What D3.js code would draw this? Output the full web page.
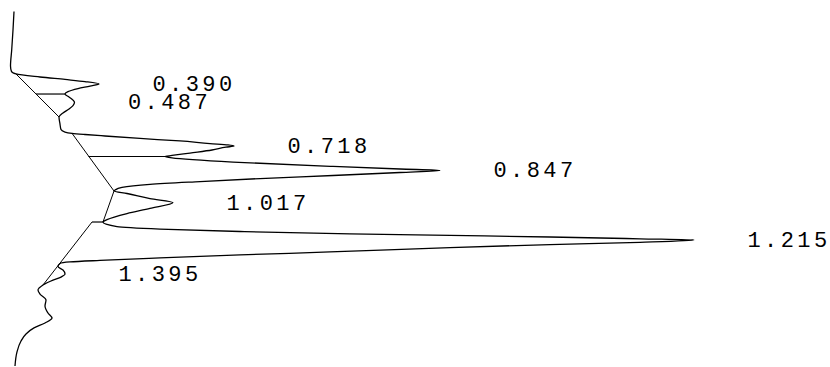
<!DOCTYPE html>
<html>
<head>
<meta charset="utf-8">
<script src="https://cdn.jsdelivr.net/npm/d3@7"></script>
<style>
  html, body { margin: 0; padding: 0; background: #fff; }
  svg { display: block; }
</style>
</head>
<body>
<svg id="chart" width="830" height="367"></svg>
<script>
// Retention time (min) of each trace sample
const traceTime = [
  0.007, 0.104, 0.210, 0.295, 0.324, 0.337,
  0.353, 0.366, 0.377, 0.390, 0.401, 0.414, 0.430, 0.443,
  0.459, 0.475, 0.487, 0.504, 0.522, 0.543, 0.5645, 0.602, 0.631, 0.644, 0.6507,
  0.657, 0.665, 0.678, 0.691, 0.705, 0.712, 0.718, 0.724, 0.739, 0.755, 0.768, 0.7734,
  0.781, 0.803, 0.826, 0.8395, 0.847, 0.858, 0.874, 0.890, 0.906, 0.921, 0.937, 0.951, 0.9559,
  0.969, 0.996, 1.017, 1.048, 1.075, 1.107, 1.1198,
  1.144, 1.157, 1.170, 1.183, 1.191, 1.199, 1.2086, 1.215, 1.227, 1.239, 1.255, 1.278, 1.294, 1.310, 1.323, 1.331, 1.339,
  1.355, 1.374, 1.395, 1.411, 1.427, 1.4529,
  1.479, 1.501, 1.532, 1.564, 1.601, 1.628, 1.654, 1.680, 1.712, 1.749, 1.807, 1.881
];
// Detector signal (mV) of each trace sample
const traceSignal = [
  4, 3, 1.7, 0.5, 1.5, 6,
  30, 55, 75, 89, 80, 68, 58, 55,
  59, 63, 64.5, 63, 59, 53, 49, 50, 51, 55, 62,
  75, 95, 130, 170, 200, 218, 224, 216, 202, 180, 162, 155,
  162, 223, 323, 390, 430, 390, 323, 250, 190, 140, 112, 105, 104,
  117, 140, 163, 140, 117, 97, 93,
  107, 150, 230, 340, 440, 540, 630, 684, 630, 540, 440, 320, 230, 150, 90, 60, 50,
  48, 53, 55, 51, 43, 33,
  28, 30, 36, 35, 38, 42, 35, 24, 16, 11, 7, 5
];
// Integration baselines [t1, s1, t2, s2]
const baselines = [
  [0.337, 6, 0.5645, 49],
  [0.6507, 62, 0.9559, 104],
  [0.9559, 104, 1.1198, 93],
  [1.1198, 82, 1.4529, 33]
];
// Drop lines [t, baseline signal, trace signal]
const dropLines = [
  [0.443, 26, 55],
  [0.7734, 78.5, 155],
  [1.1198, 82, 93]
];
// Labelled peaks
const peakTimes   = [0.390, 0.487, 0.718, 0.847, 1.017, 1.215, 1.395];
const peakHeights = [89, 64.5, 224, 430, 163, 684, 55];
const peakLabels  = ["0.390", "0.487", "0.718", "0.847", "1.017", "1.215", "1.395"];

const svg = d3.select("#chart");
const x = d3.scaleLinear().domain([0, 820]).range([10, 830]);
const y = d3.scaleLinear().domain([0, 1.9]).range([10.25, 10.25 + 1.9 * 189.1]);

const trace = traceTime.map((t, i) => ({ t, s: traceSignal[i] }));

svg.append("path")
  .datum(trace)
  .attr("fill", "none")
  .attr("stroke", "#000")
  .attr("stroke-width", 1.3)
  .attr("stroke-linejoin", "round")
  .attr("d", d3.line().x(d => x(d.s)).y(d => y(d.t)).curve(d3.curveMonotoneY));

svg.append("g").selectAll("line")
  .data(baselines)
  .join("line")
  .attr("x1", d => x(d[1])).attr("y1", d => y(d[0]))
  .attr("x2", d => x(d[3])).attr("y2", d => y(d[2]))
  .attr("stroke", "#000").attr("stroke-width", 1);

svg.append("g").selectAll("line")
  .data(dropLines)
  .join("line")
  .attr("x1", d => x(d[1])).attr("y1", d => y(d[0]))
  .attr("x2", d => x(d[2])).attr("y2", d => y(d[0]))
  .attr("stroke", "#000").attr("stroke-width", 1.2);

svg.append("g").selectAll("text")
  .data(peakTimes.map((t, i) => ({ t, s: peakHeights[i], label: peakLabels[i] })))
  .join("text")
  .attr("x", d => x(d.s) + 53.5)
  .attr("y", d => y(d.t) + 7)
  .attr("font-family", "Liberation Mono, monospace")
  .attr("font-size", 22)
  .attr("letter-spacing", 3.4)
  .attr("fill", "#000")
  .text(d => d.label);
</script>
</body>
</html>
